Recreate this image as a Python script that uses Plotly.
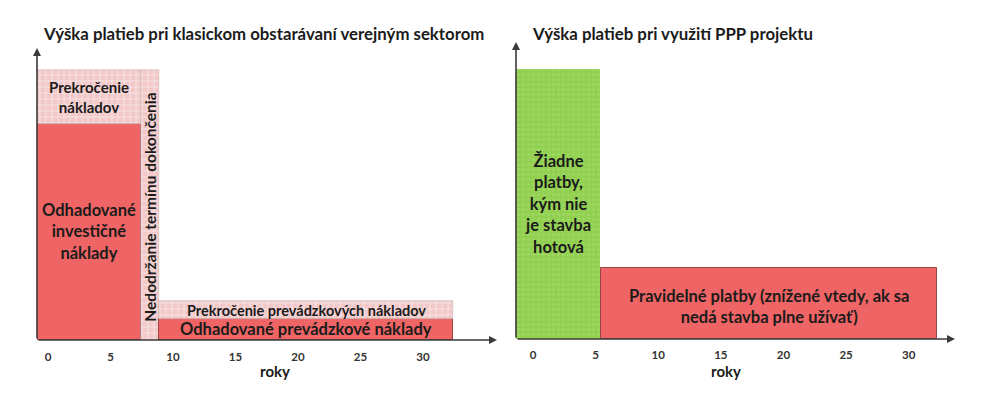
import plotly.graph_objects as go

# Left panel: classical public procurement (segments in years, heights in relative units)
left_labels = ["Odhadované investičné náklady", "Prekročenie nákladov",
               "Nedodržanie termínu dokončenia", "Odhadované prevádzkové náklady",
               "Prekročenie prevádzkových nákladov"]
left_start = [-0.88, -0.88, 7.44, 8.88, 8.88]
left_end = [7.44, 7.44, 8.88, 32.4, 32.4]
left_base = [0, 80, 0, 0, 7.8]
left_height = [80, 20, 100, 7.8, 6.6]
left_kind = ["solid", "check", "check", "solid", "check"]

# Right panel: PPP project
right_labels = ["Žiadne platby", "Pravidelné platby"]
right_start = [-1.36, 5.43]
right_end = [5.35, 32.3]
right_base = [0, 0]
right_height = [100, 26.3]
right_kind = ["green", "solid"]

tick_vals = [0, 5, 10, 15, 20, 25, 30]
axis_x_end = [35.92, 33.7]
axis_y_end = [108.1, 110.0]

RED = "#EF6464"
FONT = "Lato"
TXT = "#1b1b1b"


def marker_for(kind):
    if kind == "solid":
        return dict(color=RED, line=dict(color="#9a4646", width=1))
    if kind == "check":
        return dict(color="#F3CFCF", line=dict(color="#c0a8a8", width=0.5),
                    pattern=dict(shape="+", fgcolor="#ffffff", bgcolor="#F2C8C8",
                                 size=6, solidity=0.3))
    return dict(color="#92D050", line=dict(width=0),
                pattern=dict(shape=".", fgcolor="#A8DC74", bgcolor="#92D050",
                             size=5, solidity=0.3))


fig = go.Figure()

for xa, ya, labels, st, en, ba, he, kd in [
    ("x", "y", left_labels, left_start, left_end, left_base, left_height, left_kind),
    ("x2", "y2", right_labels, right_start, right_end, right_base, right_height, right_kind),
]:
    for lab, s, e, b, h, k in zip(labels, st, en, ba, he, kd):
        fig.add_trace(go.Bar(
            x=[(s + e) / 2], y=[h], base=[b], width=[e - s], name=lab,
            marker=marker_for(k), xaxis=xa, yaxis=ya, showlegend=False,
            hoverinfo="name",
        ))

ann = []


def label(xref, yref, x, y, text, size, angle=0):
    ann.append(dict(xref=xref, yref=yref, x=x, y=y, text=text, showarrow=False,
                    textangle=angle, align="center",
                    font=dict(family=FONT, size=size, color=TXT, weight="bold")))


def mid(i, st, en):
    return (st[i] + en[i]) / 2


def vmid(i, ba, he):
    return ba[i] + he[i] / 2


label("x", "y", mid(1, left_start, left_end), vmid(1, left_base, left_height),
      "Prekročenie<br>nákladov", 15)
label("x", "y", mid(0, left_start, left_end), 40,
      "Odhadované<br>investičné<br>náklady", 16.5)
label("x", "y", mid(2, left_start, left_end), 49,
      "Nedodržanie termínu dokončenia", 15.5, angle=-90)
label("x", "y", mid(3, left_start, left_end), vmid(3, left_base, left_height),
      "Odhadované prevádzkové náklady", 16.5)
label("x", "y", mid(4, left_start, left_end), vmid(4, left_base, left_height),
      "Prekročenie prevádzkových nákladov", 14.5)
label("x2", "y2", mid(0, right_start, right_end), vmid(0, right_base, right_height),
      "Žiadne<br>platby,<br>kým nie<br>je stavba<br>hotová", 16.5)
label("x2", "y2", mid(1, right_start, right_end), 12.2,
      "Pravidelné platby (znížené vtedy, ak sa<br>nedá stavba plne užívať)", 16.5)

# axis arrows
for i, (xa, ya, x0) in enumerate([("x", "y", left_start[0]), ("x2", "y2", right_start[0])]):
    ann.append(dict(xref=xa, yref=ya, axref=xa, ayref=ya, x=axis_x_end[i], y=0,
                    ax=x0, ay=0, text="", showarrow=True, arrowhead=2, arrowsize=1,
                    arrowwidth=1.6, arrowcolor="#3a3a3a"))
    ann.append(dict(xref=xa, yref=ya, axref=xa, ayref=ya, x=x0, y=axis_y_end[i],
                    ax=x0, ay=0, text="", showarrow=True, arrowhead=2, arrowsize=1,
                    arrowwidth=1.6, arrowcolor="#3a3a3a"))

# titles
ann.append(dict(xref="paper", yref="paper", x=0.041, y=0.916, xanchor="left", yanchor="middle",
                text="Výška platieb pri klasickom obstarávaní verejným sektorom",
                showarrow=False, font=dict(family=FONT, size=16.8, color=TXT, weight="bold")))
ann.append(dict(xref="paper", yref="paper", x=0.530, y=0.916, xanchor="left", yanchor="middle",
                text="Výška platieb pri využití PPP projektu",
                showarrow=False, font=dict(family=FONT, size=16.8, color=TXT, weight="bold")))
# axis titles
for xp in (0.258, 0.743):
    ann.append(dict(xref="paper", yref="paper", x=xp, y=0.061, yanchor="middle", text="roky",
                    showarrow=False, font=dict(family=FONT, size=15, color=TXT, weight="bold")))

xcommon = dict(tickvals=tick_vals, showgrid=False, zeroline=False, showline=False,
               ticks="", ticklabelstandoff=8,
               tickfont=dict(family=FONT, size=11.5, color="#333333", weight="bold"))
ycommon = dict(showgrid=False, zeroline=False, showline=False, showticklabels=False, ticks="")

fig.update_layout(
    width=1000, height=395, margin=dict(l=0, r=0, t=0, b=0),
    paper_bgcolor="white", plot_bgcolor="white", barmode="overlay", bargap=0,
    xaxis=dict(domain=[0.037, 0.497], range=[left_start[0], axis_x_end[0]], **xcommon),
    yaxis=dict(domain=[0.1392, 0.8785], range=[0, axis_y_end[0]], **ycommon),
    xaxis2=dict(domain=[0.516, 0.955], range=[right_start[0], axis_x_end[1]],
                anchor="y2", **xcommon),
    yaxis2=dict(domain=[0.1418, 0.8937], range=[0, axis_y_end[1]], anchor="x2", **ycommon),
    annotations=ann,
)

fig.write_html("out.html")
